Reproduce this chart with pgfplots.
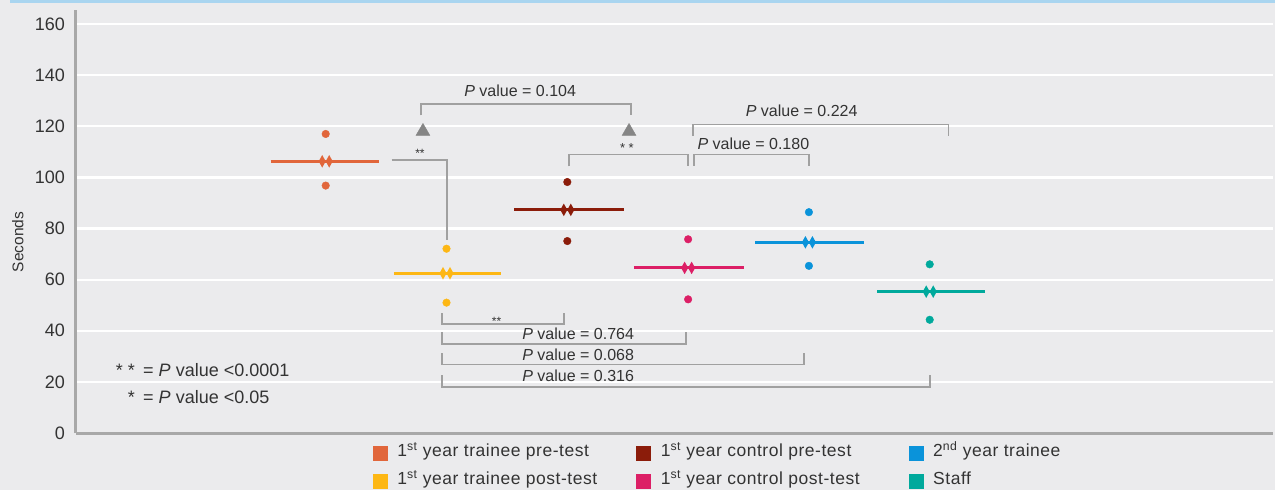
\documentclass[border=0pt]{standalone}
\usepackage{pgfplots}
\pgfplotsset{compat=1.18}
\usepackage{fontspec}
\setmainfont{Liberation Sans}
\definecolor{bg}{HTML}{EBEBED}
\definecolor{topblue}{HTML}{A9D5F0}
\definecolor{cA}{HTML}{E1663B}
\definecolor{cB}{HTML}{FDB714}
\definecolor{cC}{HTML}{8B1C0A}
\definecolor{cD}{HTML}{DC1F66}
\definecolor{cE}{HTML}{0A93DA}
\definecolor{cF}{HTML}{00A99C}
\definecolor{brk}{HTML}{A0A0A0}
\definecolor{tri}{HTML}{858585}
\definecolor{axc}{HTML}{A8A8A8}
\definecolor{txt}{HTML}{333333}
\newcommand{\fs}[1]{\fontsize{#1}{#1}\selectfont}
\newcommand{\legfont}{\fontsize{17.5}{17.5}\selectfont\addfontfeature{LetterSpace=3}}
\pgfdeclareplotmark{ddiamond}{%
  \pgfpathmoveto{\pgfqpoint{-7pt}{0pt}}%
  \pgfpathlineto{\pgfqpoint{-3.5pt}{6.3pt}}%
  \pgfpathlineto{\pgfqpoint{0pt}{0pt}}%
  \pgfpathlineto{\pgfqpoint{-3.5pt}{-6.3pt}}%
  \pgfpathclose
  \pgfpathmoveto{\pgfqpoint{0pt}{0pt}}%
  \pgfpathlineto{\pgfqpoint{3.5pt}{6.3pt}}%
  \pgfpathlineto{\pgfqpoint{7pt}{0pt}}%
  \pgfpathlineto{\pgfqpoint{3.5pt}{-6.3pt}}%
  \pgfpathclose
  \pgfusepathqfill}
\pgfplotsset{
  legA/.style={legend image code/.code={\fill[cA] (0pt,-7pt) rectangle (14pt,7pt);}},
  legB/.style={legend image code/.code={\fill[cB] (0pt,-7pt) rectangle (14pt,7pt);}},
  legC/.style={legend image code/.code={\fill[cC] (0pt,-7pt) rectangle (14pt,7pt);}},
  legD/.style={legend image code/.code={\fill[cD] (0pt,-7pt) rectangle (14pt,7pt);}},
  legE/.style={legend image code/.code={\fill[cE] (0pt,-7pt) rectangle (14pt,7pt);}},
  legF/.style={legend image code/.code={\fill[cF] (0pt,-7pt) rectangle (14pt,7pt);}},
  meanline/.style={forget plot, line width=2.8pt, no markers},
  meanmark/.style={forget plot, only marks, mark=ddiamond},
  dots/.style={forget plot, only marks, mark=*, mark size=3.8pt},
}
\tikzset{brk/.style={draw=brk, line width=1.6pt}}
\begin{document}
\begin{tikzpicture}[x=1pt,y=1pt]
\useasboundingbox (0,0) rectangle (1275,490);
\fill[bg] (0,0) rectangle (1275,490);
\fill[topblue] (10,487) rectangle (1275,490);
\begin{axis}[
  at={(76pt,57pt)}, anchor=south west,
  scale only axis, width=1197pt, height=423pt,
  xmin=-1.067, xmax=8.842, ymin=0, ymax=165.5,
  axis x line*=bottom, axis y line*=left,
  axis line style={axc, line width=3pt},
  xtick=\empty,
  ytick={0,20,...,160},
  major tick length=0pt,
  ymajorgrids, grid style={white, line width=2.2pt},
  yticklabel style={font=\fs{18}, text=txt, inner sep=0pt, xshift=-11pt},
  /pgf/number format/assume math mode=true,
  ylabel={Seconds},
  ylabel style={at={(axis description cs:-0.0485,0.4515)}, anchor=center, font=\fs{15.5}, text=txt},
  clip=false,
  legend columns=3,
  legend cell align=left,
  legend style={at={(axis description cs:0.24812,-0.02837)}, anchor=north west,
    draw=none, fill=none, inner sep=0pt, outer sep=0pt, column sep=0pt, row sep=12pt,
    font=\legfont, text=txt,
    nodes={inner xsep=10pt, inner ysep=0pt, text height=12pt, text depth=4pt}},
]
% legend entries
\addlegendimage{legA}\addlegendentry{\makebox[229pt][l]{1\textsuperscript{st} year trainee pre-test}}
\addlegendimage{legC}\addlegendentry{\makebox[238pt][l]{1\textsuperscript{st} year control pre-test}}
\addlegendimage{legE}\addlegendentry{2\textsuperscript{nd} year trainee}
\addlegendimage{legB}\addlegendentry{\makebox[229pt][l]{1\textsuperscript{st} year trainee post-test}}
\addlegendimage{legD}\addlegendentry{\makebox[238pt][l]{1\textsuperscript{st} year control post-test}}
\addlegendimage{legF}\addlegendentry{Staff}

% 1st year trainee pre-test
\addplot[meanline, cA] coordinates {(0.545,106.3) (1.44,106.3)};
\addplot[meanmark, cA] coordinates {(1,106.3)};
\addplot[dots, cA] coordinates {(1,117.0) (1,96.8)};
% 1st year trainee post-test
\addplot[meanline, cB] coordinates {(1.565,62.5) (2.455,62.5)};
\addplot[meanmark, cB] coordinates {(2,62.5)};
\addplot[dots, cB] coordinates {(2,72.1) (2,51.0)};
% 1st year control pre-test
\addplot[meanline, cC] coordinates {(2.56,87.3) (3.47,87.3)};
\addplot[meanmark, cC] coordinates {(3,87.3)};
\addplot[dots, cC] coordinates {(3,98.2) (3,75.1)};
% 1st year control post-test
\addplot[meanline, cD] coordinates {(3.55,64.6) (4.46,64.6)};
\addplot[meanmark, cD] coordinates {(4,64.6)};
\addplot[dots, cD] coordinates {(4,75.8) (4,52.3)};
% 2nd year trainee
\addplot[meanline, cE] coordinates {(4.555,74.6) (5.455,74.6)};
\addplot[meanmark, cE] coordinates {(5,74.6)};
\addplot[dots, cE] coordinates {(5,86.4) (5,65.4)};
% Staff
\addplot[meanline, cF] coordinates {(5.565,55.3) (6.46,55.3)};
\addplot[meanmark, cF] coordinates {(6,55.3)};
\addplot[dots, cF] coordinates {(6,66.0) (6,44.3)};
% triangles
\addplot[forget plot, only marks, mark=triangle*, mark size=8pt, color=tri] coordinates {(1.805,118.0) (3.511,118.0)};

% brackets (top)
\draw[brk] (axis cs:1.545,106.7) -- (axis cs:2.004,106.7) -- (axis cs:2.004,75.5);
\node[font=\fs{12}, text=txt] at (axis cs:1.78,109.6) {**};
\draw[brk] (axis cs:1.788,124.3) -- (axis cs:1.788,128.8) -- (axis cs:3.525,128.8) -- (axis cs:3.525,124.3);
\node[font=\fs{16}, text=txt] at (axis cs:2.61,133.9) {\textit{P} value = 0.104};
\draw[brk] (axis cs:3.012,104.3) -- (axis cs:3.012,108.9) -- (axis cs:4.0,108.9) -- (axis cs:4.0,104.3);
\node[font=\fs{13}, text=txt] at (axis cs:3.493,111.6) {* *};
\draw[brk] (axis cs:4.05,104.6) -- (axis cs:4.05,108.9) -- (axis cs:5.0,108.9) -- (axis cs:5.0,104.6);
\node[font=\fs{16}, text=txt] at (axis cs:4.54,113.0) {\textit{P} value = 0.180};
\draw[brk] (axis cs:4.04,116.3) -- (axis cs:4.04,120.7) -- (axis cs:6.154,120.7) -- (axis cs:6.154,116.3);
\node[font=\fs{16}, text=txt] at (axis cs:4.94,126.0) {\textit{P} value = 0.224};
% brackets (bottom)
\draw[brk] (axis cs:1.963,46.9) -- (axis cs:1.963,42.7) -- (axis cs:2.973,42.7) -- (axis cs:2.973,46.9);
\node[font=\fs{12}, text=txt] at (axis cs:2.415,43.6) {**};
\draw[brk] (axis cs:1.963,39.4) -- (axis cs:1.963,34.9) -- (axis cs:3.983,34.9) -- (axis cs:3.983,39.4);
\node[font=\fs{16}, text=txt] at (axis cs:3.09,38.7) {\textit{P} value = 0.764};
\draw[brk] (axis cs:1.963,31.3) -- (axis cs:1.963,26.8) -- (axis cs:4.96,26.8) -- (axis cs:4.96,31.3);
\node[font=\fs{16}, text=txt] at (axis cs:3.09,30.5) {\textit{P} value = 0.068};
\draw[brk] (axis cs:1.963,22.5) -- (axis cs:1.963,18.1) -- (axis cs:6.0,18.1) -- (axis cs:6.0,22.5);
\node[font=\fs{16}, text=txt] at (axis cs:3.09,22.5) {\textit{P} value = 0.316};
% key
\node[anchor=base east, font=\fs{18}, text=txt, inner sep=0pt] at (axis description cs:0.0493,0.1336) {* *};
\node[anchor=base west, font=\fs{18}, text=txt, inner sep=0pt] at (axis description cs:0.056,0.1336) {= \textit{P} value <0.0001};
\node[anchor=base east, font=\fs{18}, text=txt, inner sep=0pt] at (axis description cs:0.0493,0.0697) {*};
\node[anchor=base west, font=\fs{18}, text=txt, inner sep=0pt] at (axis description cs:0.056,0.0697) {= \textit{P} value <0.05};
\end{axis}
\end{tikzpicture}
\end{document}
